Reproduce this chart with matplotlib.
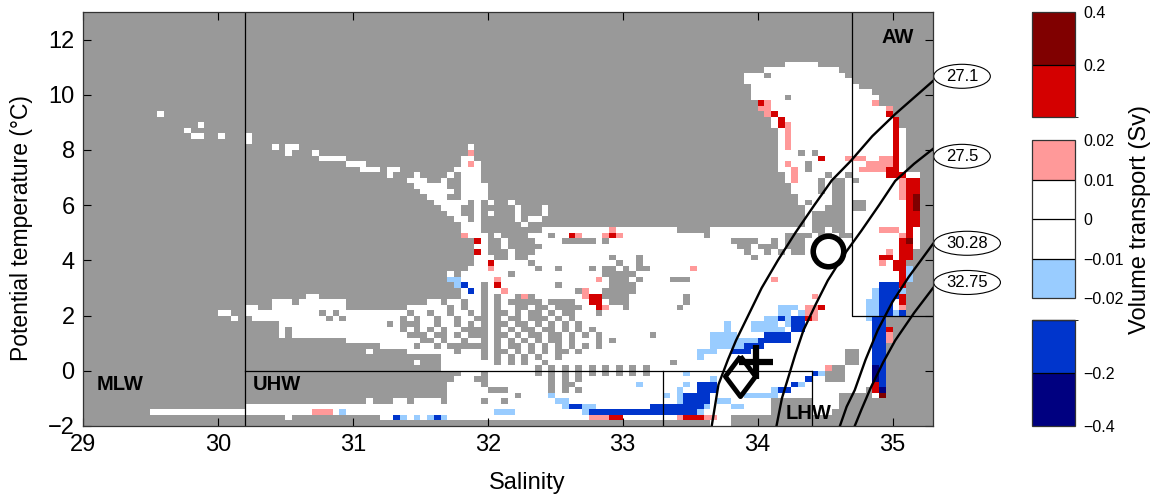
import numpy as np
import matplotlib
matplotlib.use("Agg")
import matplotlib.pyplot as plt
from matplotlib.colors import ListedColormap, BoundaryNorm
from matplotlib.patches import Ellipse
import matplotlib.colorbar as mcolorbar

plt.rcParams['font.family'] = ['Liberation Sans', 'DejaVu Sans']

# T-S bins: salinity step 0.05 (29 .. 35.3), temperature step 0.2 (-2 .. 13)
S_EDGES = np.linspace(29.0, 35.3, 127)
T_EDGES = np.linspace(-2.0, 13.0, 76)

# transport classes (Sv) and their colours
BOUNDS = [-0.4, -0.2, -0.02, -0.01, 0, 0.01, 0.02, 0.2, 0.4]
COLORS = ['#000080', '#0035cc', '#99ccff', '#ffffff', '#ffffff', '#ff9999', '#d40000', '#800000']
CODE_VALUE = {'n': -0.3, 'b': -0.1, 'l': -0.015, 'w': 0.0, 'p': 0.015, 'r': 0.1, 'd': 0.3}

# transport per bin, read row by row (row index = temperature bin from -2 C),
# run-length coded from S=29: "<count><code>", '.' = no water in that bin
ROWS = {
    65: "104. 5w",
    64: "101. 11w",
    63: "98. 3w 1. 11w",
    62: "98. 16w",
    61: "99. 16w",
    60: "99. 18w",
    59: "99. 5w 1. 13w",
    58: "100. 1r 1p 15w 1p",
    57: "100. 2p 17w 1p",
    56: "11. 1w 89. 1p 1r 16w 1r",
    55: "102. 1w 1r 16w 1r",
    54: "17. 1w 84. 1w 1r 1p 15w 1r",
    53: "15. 1w 87. 1w 1p 15w 1r 1w",
    52: "16. 2w 2. 1w 3. 1w 78. 1w 1p 15w 1r 1w",
    51: "24. 1w 78. 1w 1p 15w 1r 1w",
    50: "28. 1w 1. 2w 25. 1w 45. 1w 1p 15w 1r 1w",
    49: "30. 1w 3. 1w 22. 1p 45. 3w 1. 1w 1. 11w 1r 1w",
    48: "35. 4w 17. 2w 45. 6w 1r 3w 3p 2w 2p 1r 1w",
    47: "39. 3w 14. 1w 1p 1w 44. 1w 1p 2w 1. 8w 4p 1r 1w",
    46: "41. 3w 1. 2w 8. 4w 44. 2w 1p 1w 1. 7w 4p 2r 1w",
    45: "45. 1w 3. 1w 4. 1w 1. 3w 45. 1w 1p 4w 1. 2w 1. 5w 3r 2w",
    44: "48. 3w 2. 1w 2. 3w 45. 1w 1p 3w 1. 1w 2. 1w 1. 6w 1p 2r",
    43: "49. 5w 2. 4w 45. 4w 1. 1w 2. 8w 1p 2r",
    42: "50. 5w 1. 4w 45. 4w 1. 1w 2. 8w 1p 2r",
    41: "51. 3w 2. 4w 46. 5w 2. 8w 1p 1r 1d",
    40: "52. 5w 1. 1w 1. 1w 2. 1w 42. 1w 1. 3w 2. 1w 2. 6w 1r 1d",
    39: "53. 3w 2. 1w 5. 1w 3. 1w 38. 3w 3. 1w 2. 6w 1r 1d",
    38: "54. 2w 2. 1w 1. 1w 3. 1w 3. 1w 38. 1w 5. 9w 2r",
    37: "55. 2w 1. 1w 5. 1w 1. 2w 39. 1w 5. 9w 2r",
    36: "56. 3w 6. 1w 41. 1w 5. 9w 2r",
    35: "56. 3w 9. 10w 1p 9w 5. 15w 2. 1w 2. 5w 3p 1w 1r 1w",
    34: "56. 1p 3w 1. 1w 4. 3w 1. 2w 1r 1p 3w 1p 1r 1p 12w 1. 11w 4. 1w 2. 1w 2. 7w 1p 1r 1w",
    33: "58. 1r 1w 2. 1w 4. 4w 5. 1w 1. 18w 4. 2w 1. 1w 3. 14w 1r 1d 1w",
    32: "58. 2w 2. 1w 5. 29w 2. 1w 3. 1w 3. 14w 2r 1w",
    31: "58. 1r 1w 3. 1w 3. 31w 1. 2w 1. 1w 1. 1w 2. 12w 1p 1w 2r",
    30: "58. 3w 2. 1w 2. 12w 1. 3w 1. 16w 1. 18w 2r 1w 2r",
    29: "58. 2w 1r 5w 1. 12w 1. 2w 1. 35w 1p 1w 2r",
    28: "57. 3w 1p 6w 1. 2w 1. 4w 1. 1w 2. 1w 1. 1w 2. 6w 1p 29w 2r 1l",
    27: "54. 1w 1. 7w 1. 13w 5. 39w 1r 1l",
    26: "54. 2l 5w 1p 14w 1p 1w 3. 1w 1. 4w 3. 12w 1p 18w 1r 1l",
    25: "55. 1l 1b 2w 1. 1w 1r 8w 1. 7w 4. 36w 3b 1r",
    24: "56. 1w 1b 1w 1. 2w 1p 10w 1. 1p 2w 5. 35w 1l 3b 1l",
    23: "33. 2w 21. 3w 1. 1w 1. 2w 1. 1p 1. 7w 1p 2r 4. 8w 1. 18w 1p 8w 1l 3b 1r",
    22: "28. 3w 1. 7w 12. 2w 1. 2w 1. 2w 1. 1w 1. 1w 5. 1w 4. 2w 2r 1w 3. 8w 1. 26w 2l 2b 1w 1r",
    21: "24. 2w 2. 11w 9. 6w 1. 1w 1. 2w 1. 1w 1. 2w 2. 1w 2. 1w 4. 2w 1r 1p 2w 1. 7w 1. 14w 3l 1w 2p 1r 6w 2l 2b 1w 1p",
    20: "20. 2w 2. 11w 1. 1w 1. 10w 1. 2w 1. 2w 1. 2w 1. 1w 1. 1w 2. 1w 1. 1w 2. 1w 1. 1w 2. 3w 1. 26w 2l 1w 1l 2p 7w 2l 2b 1l 1b",
    19: "22. 1w 2. 11w 1. 1w 1. 8w 1. 1w 1. 2w 1. 2w 1. 2w 2. 1w 1. 1w 2. 1w 3. 1w 1. 1w 1. 28w 2l 1b 1l 2b 1r 1p 7w 1l 2b",
    18: "29. 16w 1. 1w 3. 2w 1. 2w 1. 1w 1. 1w 1. 1w 2. 1w 2. 1w 1. 1w 1. 1w 1. 1w 1. 21w 1l 3w 4l 1w 1l 2b 10w 2b",
    17: "29. 1w 1. 16w 1. 1w 1. 1w 1. 1w 1. 2w 4. 1w 1. 1w 1. 1w 2. 1w 2. 1w 1. 1w 1. 1w 1. 19w 1l 3w 5l 1w 2b 10w 2b 1r",
    16: "29. 1w 1. 17w 3. 1w 2. 1w 1. 1w 3. 1w 2. 1w 1. 1w 2. 1w 2. 1w 1. 1w 1. 1w 1. 7w 1. 8w 4l 4w 4b 12w 2b 1p",
    15: "39. 11w 2. 1w 1. 2w 1. 2w 1. 1w 1. 1w 1. 1w 1. 1w 1. 1w 2. 1w 1. 3w 1. 1w 1. 14w 7l 5b 12w 2b 1p",
    14: "44. 5w 1. 2w 1. 1w 6. 1w 1. 1w 2. 1w 1. 1w 1. 1w 1. 1w 1. 1w 1. 1w 1. 16w 5l 3b 16w 2b",
    13: "42. 1w 5. 7w 1. 3w 1. 1w 2. 1w 1. 1w 1. 1w 1. 1w 2. 1w 1. 17w 3l 2w 3b 14w 2. 2w 2b",
    12: "53. 6w 1. 1w 1. 1w 1. 1w 1. 1w 1. 2w 1. 20w 1l 21w 2. 2w 2b",
    11: "49. 1w 3. 8w 1. 1w 1. 1w 1. 2w 1. 18w 1. 25w 2. 2w 2b",
    10: "53. 14w 1. 1w 1. 1w 1. 1w 1. 1w 1. 1w 1. 1w 1. 1w 1. 1w 1. 26w 1p 2. 4w 1n 1b",
    9: "56. 3w 1. 7w 1. 1w 1. 1w 1. 1w 1. 1w 1. 1w 1. 1w 1. 1w 1. 1w 1. 5w 1l 18w 1b 1l 3. 4w 1n 1b",
    8: "55. 3w 2. 9w 1. 1w 1. 1w 1. 19w 1l 13w 1b 2w 3. 4w 1n 1b",
    7: "54. 5w 1. 9w 1. 1w 2. 9w 1l 6w 1l 1w 3b 11w 1b 1l 10w 1r 1b",
    6: "54. 6w 3. 6w 1. 1w 1. 1w 1. 14w 1l 2w 3b 8w 1l 2b 11w 1. 1r 1n",
    5: "54. 10w 1. 4w 1l 16w 1l 1w 1l 4b 5w 5l 9w 5. 1w 1d",
    4: "42. 1w 3. 2w 1. 4w 1. 5w 1. 2w 1. 7w 2l 16w 1l 4b 1w 2l 6w 6. 4w",
    3: "24. 47w 1l 2b 2l 8w 8b 1l 3w 2l 4w 6. 4w",
    2: "10. 24w 3p 1w 1l 22w 3l 10w 1l 16b 1l 10w 6. 3w",
    1: "30. 1w 13. 2w 1b 1l 1w 1l 1w 1l 1b 1l 21w 3p 2r 8w 1p 3r 2p 2w",
    0: "93. 3w",
}

# isopycnals and their labels
ISO_LABELS = ['27.1', '27.5', '30.28', '32.75']
ISO_S = [
    [33.66, 33.71, 33.78, 33.84, 33.93, 34.03, 34.15, 34.28, 34.42, 34.55, 34.69, 34.85, 35.02, 35.16, 35.3],
    [34.14, 34.18, 34.23, 34.28, 34.34, 34.43, 34.52, 34.64, 34.77, 34.90, 35.02, 35.16, 35.3],
    [34.61, 34.66, 34.72, 34.80, 34.89, 35.00, 35.12, 35.21, 35.3],
    [34.72, 34.77, 34.84, 34.93, 35.02, 35.16, 35.3],
]
ISO_T = [
    [-2.0, -0.5, 0.4, 1.1, 2.0, 3.0, 4.0, 5.0, 6.0, 6.9, 7.6, 8.5, 9.3, 9.9, 10.5],
    [-2.0, -1.0, -0.2, 0.6, 1.47, 2.4, 3.27, 4.2, 5.08, 6.0, 6.88, 7.5, 8.04],
    [-2.0, -1.3, -0.7, 0.4, 1.47, 2.5, 3.4, 4.0, 4.6],
    [-2.0, -1.4, -0.6, 0.3, 1.1, 2.1, 3.0],
]
ISO_LABEL_T = [10.67, 7.77, 4.62, 3.2]

# water mass labels
MASS_NAMES = ['MLW', 'UHW', 'LHW', 'AW']
MASS_S = [29.1, 30.26, 34.21, 34.92]
MASS_T = [-0.5, -0.5, -1.55, 12.06]

# station markers
MARK_S = [34.52, 33.87, 33.985]
MARK_T = [4.35, -0.2, 0.31]


def decode(runs):
    row = []
    for tok in runs.split():
        row += [tok[-1]] * int(tok[:-1])
    row += ['.'] * (126 - len(row))
    return row[:126]


Z = np.full((75, 126), np.nan)
for j, runs in ROWS.items():
    for i, c in enumerate(decode(runs)):
        if c != '.':
            Z[j, i] = CODE_VALUE[c]

cmap = ListedColormap(COLORS)
norm = BoundaryNorm(BOUNDS, cmap.N)

fig = plt.figure(figsize=(11.59, 4.99), dpi=100)
ax = fig.add_axes([0.0716, 0.1463, 0.7334, 0.8297])
ax.set_facecolor('#999999')
ax.pcolormesh(S_EDGES, T_EDGES, np.ma.masked_invalid(Z), cmap=cmap, norm=norm,
              shading='flat', antialiased=False, edgecolors='none')

# water mass boxes
lk = dict(color='k', lw=0.9)
ax.plot([30.2, 30.2], [-2, 13], **lk)
ax.plot([30.2, 34.4], [0, 0], **lk)
ax.plot([33.3, 33.3], [-2, 0], **lk)
ax.plot([34.4, 34.4], [-2, 0], **lk)
ax.plot([34.7, 34.7, 35.3], [13, 2, 2], **lk)
for name, s, t in zip(MASS_NAMES, MASS_S, MASS_T):
    ax.text(s, t, name, ha='left', va='center', fontsize=14.5, fontweight='bold')

for s, t in zip(ISO_S, ISO_T):
    ax.plot(s, t, color='k', lw=1.7)

for lab, t in zip(ISO_LABELS, ISO_LABEL_T):
    w = 0.12 + 0.075 * len(lab)
    sc = 35.3 + w / 2 + 0.005
    ax.add_patch(Ellipse((sc, t), w, 0.87, fc='white', ec='k', lw=0.8, clip_on=False))
    ax.text(sc, t, lab, ha='center', va='center', fontsize=12, clip_on=False)

ax.plot(MARK_S[0], MARK_T[0], marker='o', ms=22, mfc='none', mec='k', mew=4)
diamond = [(0, 1), (0.75, 0), (0, -1), (-0.75, 0), (0, 1)]
ax.plot(MARK_S[1], MARK_T[1], marker=diamond, ms=29, mfc='none', mec='k', mew=3.5)
ax.plot(MARK_S[2], MARK_T[2], marker='+', ms=24, mec='k', mew=4.5)

ax.set_xlim(29, 35.3)
ax.set_ylim(-2, 13)
ax.set_xticks(range(29, 36))
ax.set_yticks(range(-2, 13, 2))
ax.tick_params(direction='in', length=6, width=0.8, top=True, right=True,
               labelsize=17, pad=6)
for sp in ax.spines.values():
    sp.set_linewidth(0.9)
    sp.set_color('#333333')

fig.text(527.5 / 1159, 1 - 483 / 499, 'Salinity', ha='center', va='center', fontsize=17)
fig.text(22 / 1159, 1 - 228 / 499, 'Potential temperature (\u00b0C)', ha='center',
         va='center', rotation=90, fontsize=16.5)


def bar(rect, lo, hi, ticks, labels):
    cax = fig.add_axes(rect)
    cb = mcolorbar.ColorbarBase(cax, cmap=ListedColormap(COLORS[lo:hi]),
                                norm=BoundaryNorm(BOUNDS[lo:hi + 1], hi - lo),
                                boundaries=BOUNDS[lo:hi + 1], spacing='uniform',
                                drawedges=True, ticks=ticks)
    cb.ax.set_yticklabels(labels)
    cb.ax.tick_params(length=0, labelsize=11.5, pad=6)
    cb.outline.set_linewidth(0.9)
    cb.outline.set_edgecolor('#333333')
    cb.dividers.set_linewidth(0.9)
    return cb


bar([0.8904, 0.7655, 0.0371, 0.2104], 6, 8, [0.2, 0.4], ['0.2', '0.4'])
bar([0.8904, 0.4028, 0.0371, 0.3166], 2, 6, [-0.02, -0.01, 0, 0.01, 0.02],
    ['\u22120.02', '\u22120.01', '0', '0.01', '0.02'])
bar([0.8904, 0.1463, 0.0371, 0.2124], 0, 2, [-0.4, -0.2], ['\u22120.4', '\u22120.2'])
fig.text(1140 / 1159, 1 - 219 / 499, 'Volume transport (Sv)', ha='center', va='center',
         rotation=90, fontsize=17)

fig.savefig('out.png', dpi=100)
